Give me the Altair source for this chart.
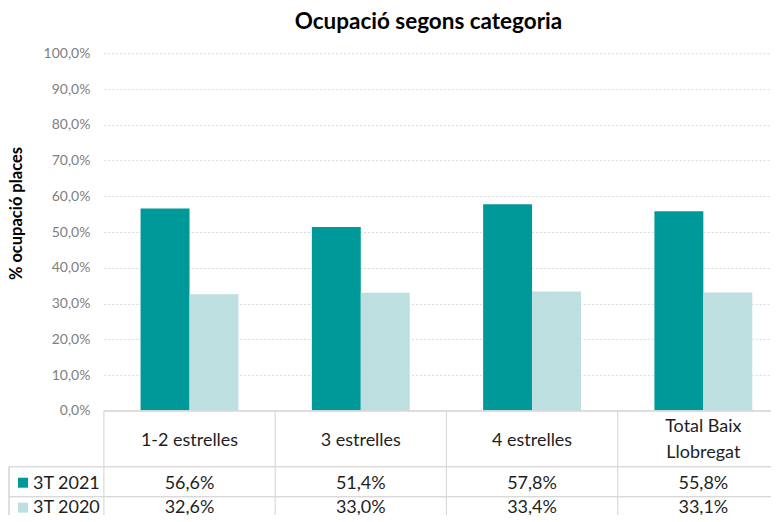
import altair as alt
import pandas as pd

categories = ["1-2 estrelles", "3 estrelles", "4 estrelles", "Total Baix Llobregat"]
header_labels = ["1-2 estrelles", "3 estrelles", "4 estrelles", "Total Baix\nLlobregat"]
series = ["3T 2021", "3T 2020"]
values_2021 = [56.6, 51.4, 57.8, 55.8]
values_2020 = [32.6, 33.0, 33.4, 33.1]
colors = ["#009999", "#BEDFE0"]
y_ticks = [0, 10, 20, 30, 40, 50, 60, 70, 80, 90, 100]
title_text = "Ocupació segons categoria"

FONT = "Lato"
W, H = 676, 358
TXT = "#1e1e1e"
LINE = "#d9d9d9"
FS = 18


def fmt(v):
    return f"{v:.1f}".replace(".", ",") + "%"


rows = []
for s, vals in zip(series, [values_2021, values_2020]):
    for c, v in zip(categories, vals):
        rows.append({"cat": c, "serie": s, "value": v, "label": fmt(v)})
df = pd.DataFrame(rows)
hdr = pd.DataFrame({"cat": categories, "header": header_labels})
hdr["multi"] = hdr["header"].str.contains("\n")
leg = pd.DataFrame({"serie": series})
one = pd.DataFrame({"t": [title_text]})

xscale = alt.Scale(domain=categories, range=[0, 686], paddingInner=0, paddingOuter=0)
xenc = alt.X("cat:N", scale=xscale, axis=None, sort=categories)
cscale = alt.Scale(domain=series, range=colors)

bars = alt.Chart(df).mark_bar().encode(
    x=xenc,
    xOffset=alt.XOffset("serie:N", sort=series,
                        scale=alt.Scale(domain=series, paddingInner=0, paddingOuter=0.75)),
    y=alt.Y("value:Q", scale=alt.Scale(domain=[0, 100]), title="% ocupació places",
            axis=alt.Axis(values=y_ticks,
                          labelExpr="replace(format(datum.value, '.1f'), '.', ',') + '%'",
                          domain=False, ticks=False, labelPadding=14,
                          labelColor="#808080", labelFont=FONT, labelFontSize=14,
                          gridColor=LINE, gridDash=[2, 2],
                          titleFont=FONT, titleFontSize=16.5, titleFontWeight="bold",
                          titleColor="#000", titleX=-87, titleY=H / 2 - 19, titleAngle=-90,
                          titleBaseline="middle", titleAlign="center")),
    color=alt.Color("serie:N", scale=cscale, legend=None),
)

title = alt.Chart(one).mark_text(font=FONT, fontSize=22.5, fontWeight="bold", color="#000",
                                 align="center", baseline="middle").encode(
    x=alt.value(325), y=alt.value(-31), text="t:N")

header1 = alt.Chart(hdr[~hdr.multi]).mark_text(
    font=FONT, fontSize=FS, color=TXT, baseline="middle").encode(
    x=xenc, y=alt.value(H + 30), text="header:N")
header2 = alt.Chart(hdr[hdr.multi]).mark_text(
    font=FONT, fontSize=FS, color=TXT, lineBreak="\n", lineHeight=26, baseline="middle").encode(
    x=xenc, y=alt.value(H + 16.5), text="header:N")

row1 = alt.Chart(df[df.serie == series[0]]).mark_text(
    font=FONT, fontSize=FS, color=TXT, baseline="middle").encode(
    x=xenc, y=alt.value(H + 73), text="label:N")
row2 = alt.Chart(df[df.serie == series[1]]).mark_text(
    font=FONT, fontSize=FS, color=TXT, baseline="middle").encode(
    x=xenc, y=alt.value(H + 97), text="label:N")

RB = H + 111
vlines = alt.Chart(hdr).mark_rule(color=LINE, strokeWidth=1.2).encode(
    x=alt.X("cat:N", scale=xscale, axis=None, sort=categories, bandPosition=0),
    y=alt.value(H), y2=alt.value(RB))
left_line = alt.Chart(leg).mark_rule(color=LINE, strokeWidth=1.2).encode(
    x=alt.value(-95), y=alt.value(H + 56), y2=alt.value(RB))
top_line = alt.Chart(leg).mark_rule(color=LINE, strokeWidth=1.2).encode(
    x=alt.value(0), x2=alt.value(W), y=alt.value(H))
h1 = alt.Chart(leg).mark_rule(color=LINE, strokeWidth=1.2).encode(
    x=alt.value(-95), x2=alt.value(W), y=alt.value(H + 56))
h2 = alt.Chart(leg).mark_rule(color=LINE, strokeWidth=1.2).encode(
    x=alt.value(-95), x2=alt.value(W), y=alt.value(H + 86))

sq1 = alt.Chart(leg[leg.serie == series[0]]).mark_point(
    shape="square", filled=True, size=100, opacity=1).encode(
    x=alt.value(-81), y=alt.value(H + 72), color=alt.Color("serie:N", scale=cscale, legend=None))
sq2 = alt.Chart(leg[leg.serie == series[1]]).mark_point(
    shape="square", filled=True, size=100, opacity=1).encode(
    x=alt.value(-81), y=alt.value(H + 97), color=alt.Color("serie:N", scale=cscale, legend=None))
lt1 = alt.Chart(leg[leg.serie == series[0]]).mark_text(
    font=FONT, fontSize=FS, color=TXT, align="left", baseline="middle").encode(
    x=alt.value(-71), y=alt.value(H + 73), text="serie:N")
lt2 = alt.Chart(leg[leg.serie == series[1]]).mark_text(
    font=FONT, fontSize=FS, color=TXT, align="left", baseline="middle").encode(
    x=alt.value(-71), y=alt.value(H + 97), text="serie:N")

chart = alt.layer(
    bars, vlines, left_line, top_line, h1, h2, title, header1, header2,
    row1, row2, sq1, sq2, lt1, lt2
).properties(
    width=W, height=H,
    padding={"left": 0, "top": 3, "right": -9, "bottom": -8},
).configure_view(stroke=None)

chart.save("out.html", embed_options={"renderer": "svg", "actions": False})
